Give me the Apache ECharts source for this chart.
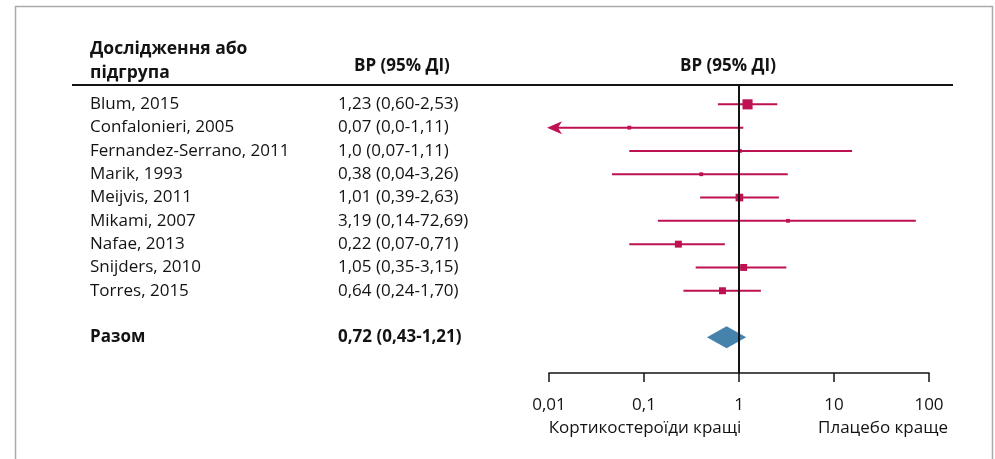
<!DOCTYPE html>
<html><head><meta charset="utf-8">
<script src="https://cdn.jsdelivr.net/npm/echarts@6/dist/echarts.min.js"></script>
<style>html,body{margin:0;padding:0;background:#fff}#c{width:995px;height:459px}</style>
</head><body><div id="c"></div>
<script>
const studies = ['Blum, 2015','Confalonieri, 2005','Fernandez-Serrano, 2011','Marik, 1993','Meijvis, 2011','Mikami, 2007','Nafae, 2013','Snijders, 2010','Torres, 2015'];
const ciLabels = ['1,23 (0,60-2,53)','0,07 (0,0-1,11)','1,0 (0,07-1,11)','0,38 (0,04-3,26)','1,01 (0,39-2,63)','3,19 (0,14-72,69)','0,22 (0,07-0,71)','1,05 (0,35-3,15)','0,64 (0,24-1,70)'];
const estimates = [1.23, 0.07, 1.02, 0.40, 1.01, 3.28, 0.23, 1.12, 0.67];
const lowerCI   = [0.60, 0.0,  0.07, 0.046, 0.39, 0.14, 0.07, 0.35, 0.26];
const upperCI   = [2.53, 1.11, 15.5, 3.26, 2.63, 72.69, 0.71, 3.15, 1.70];
const weights   = [21, 3, 3, 3, 12, 3, 10, 10, 10];
const pooledName = 'Разом';
const pooledLabel = '0,72 (0,43-1,21)';
const pooledEst = 0.74, pooledLo = 0.46, pooledHi = 1.19;
const pooledRow = 10;
const tickLabels = ['0,01','0,1','1','10','100'];
const axisMin = 0.01, axisMax = 100;

const RED = '#BE1152', BLUE = '#4683AC', INK = '#141213';
const FONT = '"Open Sans", sans-serif';
const FS = 17;
const Y_MIN = -0.83, Y_MAX = 11.53;

const chart = echarts.init(document.getElementById('c'), null, {renderer:'canvas'});

function renderStudy(params, api){
  const row = api.value(0), est = api.value(1);
  const i = params.dataIndex;
  const lo = lowerCI[i], hi = upperCI[i], w = weights[i];
  const clipped = lo < axisMin;
  const pLo = api.coord([clipped ? axisMin : lo, row]);
  const pHi = api.coord([Math.min(hi, axisMax), row]);
  const pE = api.coord([est, row]);
  const s = 2.2 * Math.sqrt(w);
  const ch = [
    {type:'line', shape:{x1:pLo[0] + (clipped ? 8 : 0), y1:pLo[1], x2:pHi[0], y2:pHi[1]}, style:{stroke:RED, lineWidth:2}},
    {type:'rect', shape:{x:pE[0]-s/2, y:pE[1]-s/2, width:s, height:s}, style:{fill:RED}}
  ];
  if (clipped) {
    const tx = pLo[0] - 2, ty = pLo[1];
    ch.push({type:'polygon', shape:{points:[[tx,ty],[tx+15,ty-6.5],[tx+11,ty],[tx+15,ty+6.5]]}, style:{fill:RED}});
  }
  return {type:'group', children:ch};
}
function renderPooled(params, api){
  const row = api.value(0);
  const pL = api.coord([pooledLo, row]), pE = api.coord([api.value(1), row]), pH = api.coord([pooledHi, row]);
  const h = 11;
  return {type:'polygon', shape:{points:[[pL[0],pL[1]],[pE[0],pE[1]-h],[pH[0],pH[1]],[pE[0],pE[1]+h]]}, style:{fill:BLUE}};
}

const NAME_X = 90, CI_X = 338;
function textSeries(xPos, rows, texts, bold){
  return {
    type:'scatter', xAxisIndex:1, yAxisIndex:1, symbolSize:0.01, silent:true, clip:false,
    itemStyle:{opacity:1, color:'#fff'},
    data: rows.map(r => [xPos, r]),
    label:{show:true, position:[0,0], align:'left', verticalAlign:'middle', opacity:1,
      formatter: p => texts[p.dataIndex], fontFamily:FONT, fontSize:FS, color:INK, fontWeight: bold ? 'bold' : 'normal'}
  };
}
const studyRows = studies.map((s,i) => i);

const option = {
  animation:false,
  backgroundColor:'#fff',
  grid:[
    {left:549, width:380, top:85, height:288},
    {left:0, right:0, top:85, height:288}
  ],
  xAxis:[
    {type:'log', logBase:10, min:axisMin, max:axisMax, gridIndex:0, position:'bottom',
      axisLine:{show:true, onZero:false, lineStyle:{color:INK, width:1.5}},
      axisTick:{show:true, length:9, lineStyle:{color:INK, width:1.5}},
      axisLabel:{formatter: v => tickLabels[Math.round(Math.log10(v)) + 2], fontFamily:FONT, fontSize:FS, color:INK, margin:24},
      splitLine:{show:false}, minorTick:{show:false}},
    {type:'value', min:0, max:995, gridIndex:1, show:false}
  ],
  yAxis:[
    {type:'value', inverse:true, min:Y_MIN, max:Y_MAX, gridIndex:0, show:false},
    {type:'value', inverse:true, min:Y_MIN, max:Y_MAX, gridIndex:1, show:false}
  ],
  series:[
    {type:'line', xAxisIndex:1, yAxisIndex:1, data:[[72, Y_MIN],[953, Y_MIN]], symbol:'none', clip:false, silent:true,
      lineStyle:{color:INK, width:2}},
    {type:'line', xAxisIndex:0, yAxisIndex:0, data:[[1, Y_MIN],[1, Y_MAX]], symbol:'none', clip:false, silent:true,
      lineStyle:{color:INK, width:2}},
    {type:'custom', xAxisIndex:0, yAxisIndex:0, renderItem:renderStudy, encode:{x:1, y:0}, clip:false,
      data: estimates.map((e,i) => [i, e])},
    {type:'custom', xAxisIndex:0, yAxisIndex:0, renderItem:renderPooled, encode:{x:1, y:0}, clip:false,
      data: [[pooledRow, pooledEst]]},
    textSeries(NAME_X, studyRows, studies, false),
    textSeries(CI_X, studyRows, ciLabels, false),
    textSeries(NAME_X, [pooledRow], [pooledName], true),
    textSeries(CI_X, [pooledRow], [pooledLabel], true)
  ],
  graphic:[
    {type:'rect', shape:{x:15.5, y:6.5, width:977, height:480}, style:{fill:'none', stroke:'#ababab', lineWidth:1.5}, silent:true, z:-1},
    {type:'text', x:90, y:49, style:{text:'Дослідження або', font:'bold 17.5px '+FONT, fill:INK, verticalAlign:'middle'}},
    {type:'text', x:90, y:73, style:{text:'підгрупа', font:'bold 17.5px '+FONT, fill:INK, verticalAlign:'middle'}},
    {type:'text', x:354, y:66, style:{text:'ВР (95% ДІ)', font:'bold '+FS+'px '+FONT, fill:INK, verticalAlign:'middle'}},
    {type:'text', x:728, y:66, style:{text:'ВР (95% ДІ)', font:'bold '+FS+'px '+FONT, fill:INK, align:'center', verticalAlign:'middle'}},
    {type:'text', x:645, y:428, style:{text:'Кортикостероїди кращі', font:FS+'px '+FONT, fill:INK, align:'center', verticalAlign:'middle'}},
    {type:'text', x:883, y:428, style:{text:'Плацебо краще', font:FS+'px '+FONT, fill:INK, align:'center', verticalAlign:'middle'}}
  ]
};
chart.setOption(option);
</script></body></html>
